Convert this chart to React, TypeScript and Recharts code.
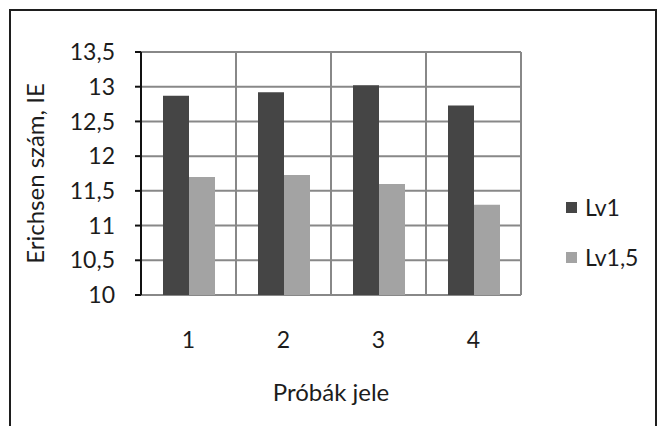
import { BarChart, Bar, XAxis, YAxis, CartesianGrid, Legend } from 'recharts'

const samples = ['1', '2', '3', '4']
const lv1 = [12.87, 12.92, 13.02, 12.73]
const lv15 = [11.7, 11.73, 11.6, 11.3]
const yTicks = [10, 10.5, 11, 11.5, 12, 12.5, 13, 13.5]
const boundaryTicks = [0.5, 1.5, 2.5, 3.5, 4.5]

const data = samples.map((name, i) => ({ name, pos: i + 1, Lv1: lv1[i], 'Lv1,5': lv15[i] }))

const FONT = 'Lato, "Open Sans", sans-serif'
const tickFont = { fontFamily: FONT, fontSize: 23, fill: '#1c1c1c' }
const titleFont = { fontFamily: FONT, fontSize: 24, fill: '#1c1c1c' }

const fmt = (v: number) => String(v).replace('.', ',')

// boundary axis: tick marks only, no text
const NoLabel = () => <g />

function LegendBox({ payload }: any) {
  return (
    <div style={{ fontFamily: FONT, fontSize: 23, color: '#1c1c1c' }}>
      {(payload || []).map((p: any) => (
        <div key={p.value} style={{ display: 'flex', alignItems: 'center', height: 50 }}>
          <span style={{ width: 11, height: 11, background: p.color, marginRight: 8, display: 'inline-block' }} />
          <span>{p.value}</span>
        </div>
      ))}
    </div>
  )
}

export default function App() {
  return (
    <div style={{ position: 'absolute', left: 0, top: 0, width: 660, height: 426, background: '#fff', overflow: 'hidden' }}>
      <div
        style={{
          position: 'absolute',
          left: 9,
          top: 9,
          width: 644,
          height: 430,
          border: '2px solid #1e1e1e',
          borderBottom: 'none',
        }}
      />
      <div style={{ position: 'absolute', left: 0, top: 0 }}>
        <BarChart width={660} height={426} data={data} margin={{ top: 52, right: 139, left: 10, bottom: 0 }} barGap={0}>
          <CartesianGrid
            xAxisId="grid"
            stroke="#888"
            strokeWidth={2}
            horizontalValues={yTicks}
            verticalValues={boundaryTicks}
          />
          <XAxis
            xAxisId="grid"
            dataKey="pos"
            type="number"
            domain={[0.5, 4.5]}
            allowDataOverflow
            ticks={boundaryTicks}
            interval={0}
            height={0}
            tick={NoLabel}
            tickSize={7}
            axisLine={{ stroke: '#111', strokeWidth: 2 }}
            tickLine={{ stroke: '#111', strokeWidth: 2 }}
          />
          <XAxis
            xAxisId="cat"
            dataKey="name"
            height={131}
            axisLine={false}
            tickLine={false}
            tickSize={0}
            tickMargin={37}
            tick={tickFont}
            label={{ value: 'Próbák jele', position: 'insideTop', offset: 89, style: { ...titleFont } }}
          />
          <YAxis
            width={131}
            domain={[10, 13.5]}
            ticks={yTicks}
            interval={0}
            tickFormatter={fmt}
            tickSize={6}
            tickMargin={20}
            tick={tickFont}
            axisLine={{ stroke: '#111', strokeWidth: 2 }}
            tickLine={{ stroke: '#111', strokeWidth: 2 }}
            label={{ value: 'Erichsen szám, IE', angle: -90, position: 'insideLeft', offset: 25, style: { ...titleFont, textAnchor: 'middle' } }}
          />
          <Legend
            layout="vertical"
            align="center"
            verticalAlign="middle"
            content={<LegendBox />}
            wrapperStyle={{ left: 566, top: 182, width: 90 }}
          />
          <Bar xAxisId="cat" dataKey="Lv1" fill="#454545" barSize={26} isAnimationActive={false} />
          <Bar xAxisId="cat" dataKey="Lv1,5" fill="#a3a3a3" barSize={26} isAnimationActive={false} />
        </BarChart>
      </div>
    </div>
  )
}
